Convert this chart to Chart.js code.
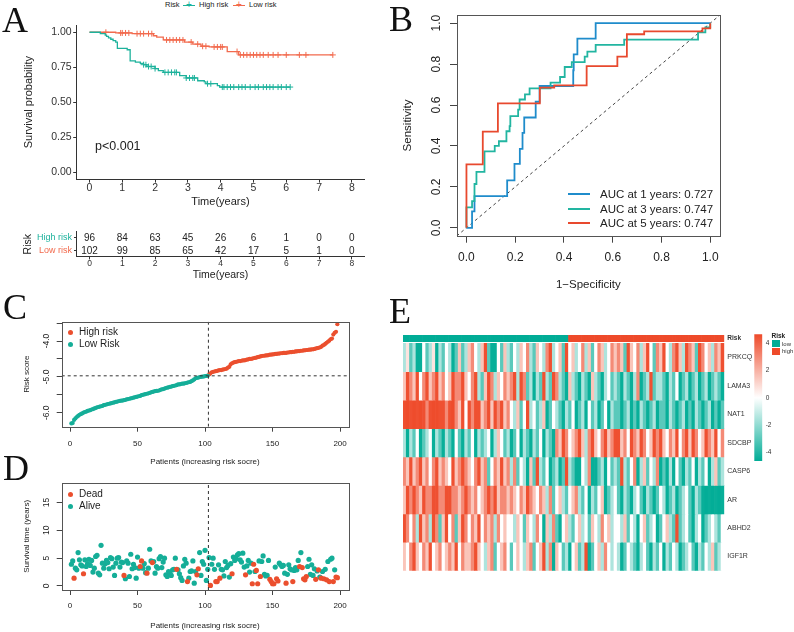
<!DOCTYPE html>
<html>
<head>
<meta charset="utf-8">
<script src="https://cdn.jsdelivr.net/npm/chart.js@4"></script>
<style>
  body { margin: 0; background: #fff; }
  #page { position: relative; width: 794px; height: 632px; overflow: hidden; font-family: 'Liberation Sans', Arial, sans-serif; color: #222; }
  #page canvas { position: absolute; }
  .abs { position: absolute; white-space: nowrap; }
  .letter { position: absolute; font-family: 'Liberation Serif', serif; font-size: 36px; line-height: 36px; color: #111; }
  .dot { position: absolute; width: 5px; height: 5px; border-radius: 50%; }
  .key { position: absolute; height: 0; }
</style>
</head>
<body>
<div id="page">
  <canvas id="km" width="385" height="200" style="left:0;top:12px"></canvas>
  <canvas id="atrisk" width="385" height="70" style="left:0;top:222px"></canvas>
  <canvas id="roc" width="406" height="295" style="left:388px;top:5px"></canvas>
  <canvas id="score" width="380" height="160" style="left:0;top:312px"></canvas>
  <canvas id="surv" width="380" height="159" style="left:0;top:473px"></canvas>
  <canvas id="heat" width="399" height="255" style="left:395px;top:325px"></canvas>
  <canvas id="cbar" width="49" height="145" style="left:745px;top:325px"></canvas>

  <div class="letter" style="left:2px;top:2px">A</div>
  <div class="letter" style="left:389px;top:1px">B</div>
  <div class="letter" style="left:3px;top:289px">C</div>
  <div class="letter" style="left:3px;top:450px">D</div>
  <div class="letter" style="left:389px;top:293px">E</div>

  <!-- KM legend -->
  <div class="abs" style="left:165px;top:0;font-size:7.5px;line-height:10px">Risk</div>
  <div class="key" style="left:183px;top:5px;width:12px;border-top:1.2px solid #1DB29C"></div>
  <div class="abs" style="left:186px;top:-1px;font-size:10px;line-height:12px;color:#1DB29C">+</div>
  <div class="abs" style="left:199px;top:0;font-size:7.5px;line-height:10px">High risk</div>
  <div class="key" style="left:233px;top:5px;width:12px;border-top:1.2px solid #F26A4D"></div>
  <div class="abs" style="left:236px;top:-1px;font-size:10px;line-height:12px;color:#F26A4D">+</div>
  <div class="abs" style="left:249px;top:0;font-size:7.5px;line-height:10px">Low risk</div>
  <div class="abs" style="left:95px;top:139px;font-size:12.5px;line-height:14px">p&lt;0.001</div>

  <!-- ROC legend -->
  <div class="key" style="left:568px;top:192.5px;width:22px;border-top:2px solid #1F8CCB"></div>
  <div class="abs" style="left:600px;top:186.5px;font-size:11.5px;line-height:14px">AUC at 1 years: 0.727</div>
  <div class="key" style="left:568px;top:207.5px;width:22px;border-top:2px solid #22B5A1"></div>
  <div class="abs" style="left:600px;top:201.5px;font-size:11.5px;line-height:14px">AUC at 3 years: 0.747</div>
  <div class="key" style="left:568px;top:222px;width:22px;border-top:2px solid #E8492E"></div>
  <div class="abs" style="left:600px;top:215.5px;font-size:11.5px;line-height:14px">AUC at 5 years: 0.747</div>

  <!-- risk score legend -->
  <div class="dot" style="left:67.5px;top:329.8px;background:#EB4F2E"></div>
  <div class="abs" style="left:79px;top:326.3px;font-size:10px;line-height:12px">High risk</div>
  <div class="dot" style="left:67.5px;top:341.5px;background:#15AE98"></div>
  <div class="abs" style="left:79px;top:338px;font-size:10px;line-height:12px">Low Risk</div>

  <!-- survival status legend -->
  <div class="dot" style="left:67.5px;top:491.8px;background:#EB4F2E"></div>
  <div class="abs" style="left:79px;top:488.3px;font-size:10px;line-height:12px">Dead</div>
  <div class="dot" style="left:67.5px;top:503.8px;background:#15AE98"></div>
  <div class="abs" style="left:79px;top:500.3px;font-size:10px;line-height:12px">Alive</div>

  <!-- heatmap annotation legend -->
  <div class="abs" style="left:771.5px;top:331.5px;font-size:6.5px;line-height:8px;font-weight:bold">Risk</div>
  <div class="abs" style="left:771.5px;top:340px;width:8.5px;height:7px;background:#00AC96"></div>
  <div class="abs" style="left:771.5px;top:347.5px;width:8.5px;height:7px;background:#EE4A2A"></div>
  <div class="abs" style="left:782px;top:339.5px;font-size:6px;line-height:8px;color:#333">low</div>
  <div class="abs" style="left:782px;top:347px;font-size:6px;line-height:8px;color:#333">high</div>
</div>

<script>
// ---------- data ----------
// A: Kaplan-Meier steps (time, survival) and censor times
const kmYears = [0, 1, 2, 3, 4, 5, 6, 7, 8];
const kmHighTime = [0, 0.33, 0.48, 0.52, 0.58, 0.65, 0.72, 0.8, 0.85, 1.15, 1.24, 1.4, 1.55, 1.65, 1.75, 2.0, 2.1, 2.25, 2.75, 2.95, 3.3, 3.5, 3.55, 3.9, 3.97, 6.12];
const kmHighSurv = [1, 0.99, 0.98, 0.97, 0.96, 0.95, 0.94, 0.93, 0.885, 0.875, 0.796, 0.787, 0.778, 0.768, 0.755, 0.74, 0.725, 0.713, 0.69, 0.673, 0.653, 0.645, 0.632, 0.618, 0.608, 0.608];
const kmLowTime = [0, 0.8, 1.3, 1.95, 2.05, 2.25, 2.9, 3.15, 3.4, 3.65, 4.2, 4.55, 7.42];
const kmLowSurv = [1, 0.995, 0.99, 0.975, 0.965, 0.945, 0.93, 0.915, 0.9, 0.895, 0.862, 0.838, 0.838];
const censorHigh = [1.65, 1.72, 1.8, 1.88, 2.0, 2.3, 2.4, 2.5, 2.6, 2.65, 2.95, 3.05, 3.15, 3.2, 3.6, 3.7, 4.05, 4.1, 4.2, 4.3, 4.4, 4.55, 4.65, 4.75, 4.9, 5.05, 5.15, 5.3, 5.4, 5.5, 5.6, 5.75, 5.85, 6.0, 6.12];
const censorLow = [0.5, 0.95, 1.0, 1.1, 1.2, 1.45, 1.55, 1.65, 1.8, 1.9, 2.35, 2.45, 2.55, 2.65, 2.75, 2.85, 3.1, 3.3, 3.45, 3.55, 3.8, 3.9, 4.0, 4.05, 4.5, 4.6, 4.7, 4.8, 4.9, 5.0, 5.1, 5.2, 5.3, 5.45, 5.6, 5.75, 6.0, 6.4, 6.6, 7.42];
const riskRows = ['High risk', 'Low risk'];
const atRiskHigh = [96, 84, 63, 45, 26, 6, 1, 0, 0];
const atRiskLow = [102, 99, 85, 65, 42, 17, 5, 1, 0];

// B: ROC curves (1-specificity, sensitivity)
const roc1x = [0, 0.023, 0.033, 0.167, 0.197, 0.219, 0.23, 0.237, 0.284, 0.30, 0.438, 0.44, 0.455, 0.53, 1.0];
const roc1y = [0, 0.08, 0.155, 0.232, 0.312, 0.386, 0.464, 0.539, 0.616, 0.693, 0.77, 0.848, 0.925, 1.0, 1.0];
const roc3x = [0, 0, 0.023, 0.033, 0.041, 0.074, 0.116, 0.133, 0.164, 0.177, 0.18, 0.212, 0.218, 0.24, 0.259, 0.345, 0.384, 0.403, 0.432, 0.485, 0.496, 0.53, 0.647, 0.95, 0.98, 1.0];
const roc3y = [0, 0.10, 0.13, 0.214, 0.273, 0.374, 0.40, 0.423, 0.472, 0.497, 0.546, 0.578, 0.627, 0.652, 0.681, 0.71, 0.737, 0.786, 0.81, 0.837, 0.861, 0.894, 0.92, 0.955, 0.98, 1.0];
const roc5x = [0, 0, 0.067, 0.129, 0.301, 0.36, 0.493, 0.619, 0.658, 0.729, 0.968, 1.0];
const roc5y = [0, 0.31, 0.47, 0.608, 0.685, 0.696, 0.79, 0.837, 0.946, 0.96, 0.975, 1.0];
const rocTicks = [0, 0.2, 0.4, 0.6, 0.8, 1.0];

// C: sorted risk scores, D: survival time and status (1 = dead)
const riskScore = [
  -6.30, -6.29, -6.20, -6.16, -6.12, -6.09, -6.06, -6.04, -6.02, -6.00,
  -5.98, -5.97, -5.95, -5.94, -5.93, -5.91, -5.90, -5.88, -5.87, -5.85,
  -5.84, -5.83, -5.82, -5.81, -5.79, -5.78, -5.77, -5.76, -5.75, -5.74,
  -5.73, -5.72, -5.71, -5.70, -5.69, -5.68, -5.67, -5.66, -5.66, -5.65,
  -5.64, -5.63, -5.62, -5.61, -5.60, -5.59, -5.58, -5.57, -5.56, -5.55,
  -5.54, -5.53, -5.51, -5.50, -5.49, -5.48, -5.47, -5.46, -5.45, -5.43,
  -5.42, -5.41, -5.40, -5.39, -5.39, -5.38, -5.36, -5.35, -5.34, -5.33,
  -5.31, -5.30, -5.29, -5.28, -5.27, -5.26, -5.25, -5.24, -5.23, -5.21,
  -5.21, -5.20, -5.19, -5.19, -5.18, -5.17, -5.16, -5.15, -5.14, -5.12,
  -5.10, -5.07, -5.04, -5.03, -5.02, -5.01, -5.00, -4.99, -4.99, -4.98,
  -4.97, -4.97, -4.93, -4.90, -4.87, -4.86, -4.85, -4.84, -4.83, -4.82,
  -4.81, -4.81, -4.80, -4.79, -4.78, -4.77, -4.74, -4.72, -4.65, -4.62,
  -4.60, -4.59, -4.58, -4.57, -4.56, -4.56, -4.55, -4.54, -4.54, -4.53,
  -4.52, -4.51, -4.50, -4.50, -4.49, -4.48, -4.47, -4.46, -4.45, -4.44,
  -4.43, -4.42, -4.41, -4.41, -4.40, -4.40, -4.39, -4.38, -4.38, -4.37,
  -4.37, -4.36, -4.36, -4.35, -4.35, -4.34, -4.34, -4.33, -4.33, -4.33,
  -4.32, -4.32, -4.31, -4.31, -4.30, -4.30, -4.29, -4.29, -4.28, -4.28,
  -4.27, -4.27, -4.26, -4.26, -4.25, -4.25, -4.24, -4.24, -4.23, -4.23,
  -4.22, -4.21, -4.20, -4.19, -4.18, -4.16, -4.13, -4.11, -4.08, -4.05,
  -4.02, -3.99, -3.95, -3.93, -3.82, -3.77, -3.74, -3.53
];
const lowRiskCount = 102;
const riskCutoff = -4.97;
const scoreTicks = [-6.0, -5.5, -5.0, -4.5, -4.0, -3.5];
const scoreLabelled = [-6.0, -5.0, -4.0];
const patientTicks = [0, 50, 100, 150, 200];
const survTicks = [0, 5, 10, 15];
const survTime = [
  3.9, 4.5, 1.4, 3.2, 2.9, 6.0, 4.7, 3.8, 3.6, 2.2,
  4.7, 3.5, 4.0, 4.8, 3.7, 4.6, 2.5, 3.2, 5.3, 5.5,
  2.3, 2.0, 7.3, 4.1, 3.2, 4.0, 4.6, 4.2, 3.1, 5.1,
  4.9, 3.4, 1.9, 4.1, 5.0, 5.1, 3.4, 4.3, 4.2, 1.9,
  1.3, 4.5, 4.1, 1.7, 5.7, 3.1, 3.9, 3.3, 1.4, 5.2,
  3.2, 3.5, 4.5, 3.2, 4.0, 2.4, 2.3, 3.2, 6.6, 4.5,
  4.2, 4.4, 2.3, 3.5, 3.2, 4.9, 5.3, 3.3, 4.3, 5.0,
  2.0, 1.7, 2.6, 2.3, 1.9, 2.9, 3.0, 5.0, 3.0, 2.9,
  2.2, 1.5, 1.0, 3.6, 4.8, 4.1, 0.8, 1.4, 2.6, 2.7,
  4.5, 0.5, 2.6, 2.0, 3.1, 6.0, 1.9, 4.4, 3.9, 6.4,
  1.0, 3.0, 5.1, 0.1, 3.9, 5.0, 3.0, 0.8, 0.8, 3.8,
  1.4, 3.0, 2.9, 1.8, 4.4, 3.3, 3.7, 1.6, 4.0, 2.2,
  5.2, 4.6, 4.9, 5.6, 5.8, 4.7, 4.3, 5.9, 3.4, 2.0,
  3.6, 4.6, 2.5, 4.1, 0.4, 3.9, 2.6, 2.8, 0.4, 4.5,
  1.7, 4.4, 5.4, 2.1, 1.8, 1.9, 4.6, 1.2, 0.8, 0.4,
  0.4, 3.4, 1.3, 0.9, 4.1, 3.8, 3.5, 3.7, 2.3, 0.5,
  2.1, 3.8, 3.1, 2.9, 0.8, 2.8, 3.3, 2.9, 4.6, 3.5,
  6.0, 3.3, 1.3, 1.1, 1.7, 3.5, 4.8, 2.1, 3.8, 1.9,
  3.1, 1.2, 2.7, 2.9, 1.6, 1.4, 2.6, 1.3, 3.0, 1.1,
  4.4, 0.8, 4.8, 5.0, 0.8, 2.9, 1.6, 1.5
];
const survStatus = [
  0, 0, 1, 0, 0, 0, 0, 0, 0, 1,
  0, 0, 0, 0, 0, 0, 0, 0, 0, 0,
  0, 0, 0, 0, 0, 0, 0, 0, 0, 0,
  0, 0, 0, 0, 0, 0, 0, 0, 0, 1,
  0, 0, 0, 0, 0, 0, 0, 0, 0, 0,
  0, 1, 1, 0, 0, 0, 1, 0, 0, 0,
  1, 0, 0, 0, 0, 0, 0, 0, 0, 0,
  0, 0, 0, 0, 0, 0, 0, 0, 1, 0,
  0, 0, 0, 0, 0, 0, 1, 0, 0, 0,
  0, 0, 0, 1, 1, 0, 0, 0, 0, 0,
  0, 0, 0, 1, 0, 0, 0, 1, 1, 0,
  1, 0, 0, 0, 0, 0, 0, 0, 0, 1,
  0, 0, 0, 0, 0, 0, 0, 0, 0, 1,
  0, 0, 0, 0, 1, 1, 0, 1, 1, 0,
  1, 0, 0, 0, 0, 0, 0, 1, 1, 1,
  1, 0, 1, 1, 0, 0, 0, 0, 0, 1,
  0, 0, 0, 0, 1, 0, 0, 0, 0, 1,
  0, 1, 1, 1, 1, 0, 0, 0, 0, 0,
  0, 1, 0, 1, 0, 1, 0, 1, 0, 1,
  0, 1, 0, 0, 1, 0, 1, 1
];

// E: expression heatmap (z-scores, columns sorted by risk), 51 low-risk columns first
const geneNames = ['PRKCQ', 'LAMA3', 'NAT1', 'SDCBP', 'CASP6', 'AR', 'ABHD2', 'IGF1R'];
const heatLowColumns = 51;
const exprPRKCQ = [-1.5, 0.7, -3, -1.5, -4.5, -4.5, 0, -3, -1.5, 0.7, -4.5, -1.5, -3, 0, -1.5, -4.5, -3, 1.5, -3, -1.5, 1.5, 3, 0, -1.5, 1.5, 4.5, -3, -4.5, -4.5, 0, -3, 1.5, -1.5,
  -3, 0, -1.5, 1.5, 0, 3, -1.5, -3, 1.5, 0, -1.5, 3, 4.5, -1.5, 0, 1.5, -3, 4.5, 0, 1.5, -1.5, 0, 3, -1.5, 1.5, -3, 0, 3, 1.5, -1.5, 0, 3, 1.5,
  3, 1.5, -3, 4.5, 1.5, 0, 3, -1.5, 1.5, 4.5, 0, -3, 3, 1.5, 4.5, 0, -1.5, 3, 4.5, 1.5, -1.5, 4.5, 3, 1.5, -3, 4.5, 3, 0, 1.5, -1.5, 3, 1.5, 4.5];
const exprLAMA3 = [1.5, 4.5, 3, 1.5, 4.5, 0, 3, 4.5, 1.5, 3, 4.5, 1.5, 3, 0, 1.5, 4.5, 3, 3, 4.5, 1.5, 0, 3, 4.5, -1.5, -3, 1.5, 4.5, 3, -1.5, 1.5, 0, 3, 1.5,
  3, 4.5, -1.5, 4.5, 3, -3, -1.5, -4.5, -1.5, -3, 4.5, -1.5, -3, 4.5, 3, -1.5, -3, -4.5, 1.5, -1.5, -3, -4.5, -1.5, -3, -4.5, 1.5, -1.5, -3, -4.5, -1.5, 0, -3, -1.5,
  -3, -4.5, -1.5, -3, -4.5, -1.5, 3, -4.5, -3, -1.5, 4.5, -3, -1.5, -1.5, -3, -4.5, -1.5, -3, 0, -4.5, -3, -1.5, -4.5, -3, -1.5, -4.5, -3, -1.5, -4.5, -3, -1.5, -3, -4.5];
const exprNAT1 = [4.5, 4.6, 4.5, 4.6, 4.5, 4.6, 4.5, 3, 4.5, 4.6, 4.6, 4.5, 4.5, 3, 4.5, 4.6, 3, 1.5, 4.5, 0, 4.5, 3, 4.5, 4.5, 1.5, 3, 4.5, 1.5, 4.5, 3, 4.5, 1.5, 3,
  0, -1.5, 1.5, -3, 0, 4.5, -1.5, 0, -3, -1.5, 1.5, -4.5, -3, 0, -1.5, -3, -4.5, -1.5, -3, 0, -4.5, -3, -1.5, -4.5, 0, -3, -1.5, -4.5, -3, 0, -4.5, -1.5, -3,
  -3, -4.5, -3, -1.5, -4.5, -3, -4.5, -1.5, -3, -4.5, -3, -1.5, -4.5, -3, -3, -4.5, -1.5, -3, -4.5, -3, -1.5, -4.5, -3, -4.5, -1.5, -3, -4.5, -3, -1.5, -4.5, -3, -4.5, -3];
const exprSDCBP = [-1.5, -4.5, -1.5, -3, 0, -4.5, -3, -1.5, 0, -4.5, -1.5, -3, -4.5, -1.5, -3, -4.5, 0, -3, -4.5, -1.5, -3, 0, -4.5, -1.5, -3, -1.5, 0, -4.5, -1.5, 1.5, 0, -3, -1.5,
  -4.5, -3, 0, -4.5, -1.5, -3, -4.5, -1.5, -3, 0, -4.5, -1.5, -3, -4.5, 3, 1.5, 4.5, 3, 0, 1.5, 3, 4.5, 1.5, -1.5, 3, 4.5, 1.5, 0, 3, 4.5, 1.5, 3, 4.5,
  4.5, 1.5, 3, 0, 4.5, 3, 1.5, 4.5, 3, 0, 1.5, 4.5, 3, 4.5, 1.5, 0, 3, 1.5, 4.5, 0, 3, 4.5, 1.5, 4.5, 3, 0, 1.5, 4.5, 3, 1.5, 4.5, 0, 3];
const exprCASP6 = [3, 1.5, 4.5, 1.5, 3, 4.5, 1.5, 3, 0, 3, 4.5, 1.5, 3, 1.5, 0, 4.5, 1.5, 3, 4.5, 3, 1.5, 0, 3, 4.5, 1.5, 3, -3, 0, 3, 1.5, 4.5, 1.5, 3,
  -1.5, 3, -3, 0, -1.5, -4.5, 1.5, -3, 4.5, -1.5, -3, 0, -4.5, -3, -1.5, -4.5, -3, 4.5, -1.5, -3, -4.5, -4.5, 0, -1.5, 3, -4.5, -4.5, -3, -1.5, -4.5, 0, -3, -1.5,
  -3, 4.5, -1.5, -3, 0, 3, -4.5, -1.5, 1.5, -3, 0, -1.5, 3, -4.5, -3, -4.5, -1.5, -4.5, 0, -3, -4.5, -1.5, -3, 0, -4.5, -1.5, -3, 0, -4.5, -1.5, 1.5, -3, -1.5];
const exprAR = [1.5, 4.5, 3, 4.5, 3, 1.5, 4.5, 3, 3, 4.5, 4.5, 3, 3, 4.5, 4.5, 3, 3, 1.5, 3, 4.5, 3, 1.5, 3, 0, 1.5, 3, 4.5, 3, 4.5, 1.5, 3, 3, 1.5,
  3, 1.5, 0, 3, 1.5, 4.5, 3, 1.5, 0, 3, 1.5, -1.5, 3, -3, 0, 1.5, -1.5, -3, 0, 1.5, 3, -1.5, -3, 0, -4.5, -1.5, -3, 0, 1.5, -4.5, -3, -1.5, 0,
  -3, -4.5, -1.5, -3, -4.5, -1.5, 0, -3, -4.5, -1.5, -3, -4.5, -3, 0, -1.5, -4.5, -3, -1.5, -4.5, -3, -1.5, 0, -3, -4.5, -1.5, -3, -4.5, -4.6, -4.5, -4.6, -4.5, -4.6, -4.5];
const exprABHD2 = [4.5, 3, 0, 3, -1.5, 4.5, 1.5, 3, -1.5, 4.5, 3, -3, 1.5, 4.5, 0, 3, -3, 1.5, 4.5, 3, 0, 3, 1.5, 4.5, 0, 3, 1.5, 3, -1.5, 3, 0, 1.5, 0,
  0, -1.5, 1.5, 0, -3, 1.5, 0, -1.5, 3, 0, -4.5, 1.5, -1.5, 3, -3, -4.5, 0, 1.5, -1.5, -3, 0, 1.5, -1.5, 0, -3, 1.5, 0, -1.5, 3, 0, 1.5, -1.5, 0,
  0, -1.5, 1.5, -3, 0, -1.5, -4.5, 0, 1.5, -3, -1.5, 0, -4.5, -3, 0, 1.5, -1.5, -3, 4.5, -3, -1.5, 0, -3, -4.5, -1.5, 0, -4.5, -3, -1.5, 0, -1.5, -3, 0];
const exprIGF1R = [1.5, 0, 3, 4.5, 1.5, 0, 3, 1.5, 4.5, 0, 1.5, 3, 0, 1.5, 3, 1.5, 4.5, 0, 3, 1.5, 1.5, 3, 4.5, 1.5, 0, -1.5, 1.5, 3, -3, 0, 1.5, 3, 0,
  -3, 0, 1.5, 0, -1.5, 1.5, 3, -3, 0, 1.5, 4.5, -1.5, 3, -4.5, 1.5, 0, -3, -1.5, -4.5, 0, 1.5, -3, -1.5, 4.5, -4.5, -3, 0, 1.5, -1.5, 3, 0, -1.5, 0,
  -1.5, -4.5, -3, 0, -1.5, -3, -4.5, -1.5, 0, -3, -4.5, -1.5, -3, 0, -4.5, -1.5, -3, 0, -1.5, -4.5, -3, -1.5, 0, -3, -4.5, -1.5, -3, 0, -1.5, 1.5, -3, -1.5, 0];
const colorbarTicks = [4, 2, 0, -2, -4];

// ---------- colours ----------
const KM_TEAL = '#1DB29C', KM_RED = '#F26A4D';
const ROC_BLUE = '#1F8CCB', ROC_TEAL = '#22B5A1', ROC_RED = '#E8492E';
const PT_TEAL = '#15AE98', PT_RED = '#EB4F2E';
const HEAT_LOW = [0, 172, 150], HEAT_HIGH = [238, 74, 42], HEAT_MAX = 4.65;

Chart.defaults.font.family = "'Liberation Sans', Arial, sans-serif";
Chart.defaults.color = '#222';
Chart.defaults.animation = false;
Chart.defaults.events = [];
Chart.defaults.plugins.legend.display = false;
Chart.defaults.plugins.tooltip.enabled = false;

// ---------- helpers ----------
function fixed(size) {
  return s => {
    if (s.isHorizontal()) s.height = size; else s.width = size;
    s.paddingLeft = s.paddingRight = s.paddingTop = s.paddingBottom = 0;
  };
}
function tickAt(values) {
  return s => { s.ticks = values.map(v => ({ value: v })); };
}
function pts(xs, ys) {
  return xs.map((x, i) => ({ x: x, y: ys[i] }));
}
function survAt(times, surv, t) {
  let s = surv[0];
  times.forEach((tt, i) => { if (tt <= t) s = surv[i]; });
  return s;
}
function mix(rgb, f) {
  return 'rgb(' + rgb.map(c => Math.round(255 + (c - 255) * f)).join(',') + ')';
}
function heatColor(v) {
  const f = Math.min(Math.abs(v) / HEAT_MAX, 1);
  return mix(v < 0 ? HEAT_LOW : HEAT_HIGH, f);
}

// draws the R-style box round the plot region
const framePlugin = {
  id: 'frame',
  afterDraw(chart, args, opts) {
    if (!opts.color) return;
    const a = chart.chartArea, ctx = chart.ctx;
    ctx.save();
    ctx.strokeStyle = opts.color;
    ctx.lineWidth = 1;
    ctx.strokeRect(Math.round(a.left) + 0.5, Math.round(a.top) + 0.5, Math.round(a.right - a.left), Math.round(a.bottom - a.top));
    ctx.restore();
  }
};
Chart.register(framePlugin);

// axis builder: o = {min, max, ticks, size, font, pad, tick, title, titleFont, titlePad, rot, fmt, line}
function axis(o) {
  const vertical = !!o.vertical;
  return {
    type: 'linear', position: vertical ? 'left' : 'bottom', min: o.min, max: o.max,
    afterBuildTicks: tickAt(o.ticks), afterFit: fixed(o.size),
    ticks: {
      autoSkip: false, font: { size: o.font, lineHeight: 1 }, color: o.color || '#222', padding: o.pad,
      minRotation: o.rot || 0, maxRotation: o.rot || 0, crossAlign: o.rot ? 'center' : 'near',
      callback: o.fmt || (v => String(v))
    },
    grid: { display: true, drawOnChartArea: false, tickLength: o.tick, color: o.line || '#444', tickColor: o.line || '#444' },
    border: { display: !!o.border, color: o.line || '#444', width: 1 },
    title: {
      display: !!o.title, text: o.title, color: '#222', font: { size: o.titleFont, lineHeight: 1 },
      padding: vertical ? { top: o.titlePad, bottom: 0 } : { top: 0, bottom: o.titlePad }
    }
  };
}
const base = { responsive: false, maintainAspectRatio: false, devicePixelRatio: 1 };

// ---------- A: Kaplan-Meier ----------
new Chart(document.getElementById('km'), {
  type: 'scatter',
  data: {
    datasets: [
      { data: pts(kmHighTime, kmHighSurv), showLine: true, stepped: true, borderColor: KM_TEAL, borderWidth: 1.3, pointRadius: 0 },
      { data: pts(kmLowTime, kmLowSurv), showLine: true, stepped: true, borderColor: KM_RED, borderWidth: 1.3, pointRadius: 0 },
      { data: censorHigh.map(t => ({ x: t, y: survAt(kmHighTime, kmHighSurv, t) })), pointStyle: 'cross', pointRadius: 3, borderWidth: 1, borderColor: KM_TEAL },
      { data: censorLow.map(t => ({ x: t, y: survAt(kmLowTime, kmLowSurv, t) })), pointStyle: 'cross', pointRadius: 3, borderWidth: 1, borderColor: KM_RED }
    ]
  },
  options: Object.assign({}, base, {
    layout: { padding: { left: 0, top: 13, right: 20.7, bottom: 0 } },
    plugins: { frame: false },
    scales: {
      x: axis({ min: -0.39, max: 8.38, ticks: kmYears, size: 32.7, font: 10.5, pad: 0.5, tick: 3.3, title: 'Time(years)', titleFont: 11, titlePad: 4.8, border: true, line: '#333', color: '#333' }),
      y: axis({ vertical: true, min: -0.052, max: 1.052, ticks: [0, 0.25, 0.5, 0.75, 1], size: 76.7, font: 10.5, pad: 1.5, tick: 3.5, title: 'Survival probability', titleFont: 11, titlePad: 23.5, border: true, line: '#333', color: '#333', fmt: v => v.toFixed(2) })
    }
  })
});

// ---------- A: number at risk ----------
const atRiskText = {
  id: 'atRiskText',
  afterDatasetsDraw(chart) {
    const { ctx, scales: { x, y } } = chart;
    ctx.save();
    ctx.font = "10px 'Liberation Sans'";
    ctx.fillStyle = '#222';
    ctx.textAlign = 'center';
    ctx.textBaseline = 'middle';
    [atRiskHigh, atRiskLow].forEach((row, r) => {
      row.forEach((n, i) => ctx.fillText(String(n), x.getPixelForValue(kmYears[i]), y.getPixelForValue(r) + 0.5));
    });
    ctx.restore();
  }
};
const riskY = axis({ vertical: true, size: 76.7, font: 9, pad: 2, tick: 2.7, title: 'Risk', titleFont: 10.5, titlePad: 22.7, border: true, line: '#333' });
riskY.type = 'category';
riskY.labels = riskRows;
riskY.offset = true;
riskY.grid.offset = false;
delete riskY.afterBuildTicks;
delete riskY.ticks.callback;
riskY.ticks.color = c => (c.index === 0 ? KM_TEAL : KM_RED);
new Chart(document.getElementById('atrisk'), {
  type: 'scatter',
  data: { datasets: [] },
  options: Object.assign({}, base, {
    layout: { padding: { left: 0, top: 9.7, right: 20.7, bottom: 0 } },
    plugins: { frame: false },
    scales: {
      x: axis({ min: -0.39, max: 8.38, ticks: kmYears, size: 35.3, font: 8.5, pad: 0.4, tick: 2.7, title: 'Time(years)', titleFont: 10.5, titlePad: 11.7, border: true, line: '#333', color: '#333' }),
      y: riskY
    }
  }),
  plugins: [atRiskText]
});

// ---------- B: ROC ----------
new Chart(document.getElementById('roc'), {
  type: 'scatter',
  data: {
    datasets: [
      { data: pts(roc5x, roc5y), showLine: true, stepped: true, borderColor: ROC_RED, borderWidth: 1.8, pointRadius: 0, order: 0 },
      { data: pts(roc3x, roc3y), showLine: true, stepped: true, borderColor: ROC_TEAL, borderWidth: 1.8, pointRadius: 0, order: 1 },
      { data: pts(roc1x, roc1y), showLine: true, stepped: true, borderColor: ROC_BLUE, borderWidth: 1.8, pointRadius: 0, order: 2 },
      { data: [{ x: -0.04, y: -0.04 }, { x: 1.04, y: 1.04 }], showLine: true, borderColor: '#444', borderWidth: 1, borderDash: [3, 3], pointRadius: 0, order: 3 }
    ]
  },
  options: Object.assign({}, base, {
    layout: { padding: { left: 0, top: 10, right: 74, bottom: 0 } },
    plugins: { frame: { color: '#555' } },
    scales: {
      x: axis({ min: -0.04, max: 1.04, ticks: rocTicks, size: 64, font: 12, pad: 8.6, tick: 6.7, title: '1\u2212Specificity', titleFont: 11.5, titlePad: 9.2, fmt: v => v.toFixed(1) }),
      y: axis({ vertical: true, min: -0.04, max: 1.04, ticks: rocTicks, size: 68.7, font: 12, pad: 5, tick: 6.7, rot: 90, title: 'Sensitivity', titleFont: 11.5, titlePad: 14.5, fmt: v => v.toFixed(1) })
    }
  })
});

// ---------- C: risk score ----------
const patMin = -6.15, patMax = 206.1;
new Chart(document.getElementById('score'), {
  type: 'scatter',
  data: {
    datasets: [
      { data: [{ x: lowRiskCount + 0.5, y: -6.39 }, { x: lowRiskCount + 0.5, y: -3.46 }], showLine: true, borderColor: '#333', borderWidth: 1, borderDash: [3, 3], pointRadius: 0, order: 0 },
      { data: [{ x: patMin, y: riskCutoff }, { x: patMax, y: riskCutoff }], showLine: true, borderColor: '#333', borderWidth: 1, borderDash: [3, 3], pointRadius: 0, order: 0 },
      { data: riskScore.slice(0, lowRiskCount).map((v, i) => ({ x: i + 1, y: v })), backgroundColor: PT_TEAL, borderWidth: 0, pointRadius: 2.1, order: 1 },
      { data: riskScore.slice(lowRiskCount).map((v, i) => ({ x: lowRiskCount + i + 1, y: v })), backgroundColor: PT_RED, borderWidth: 0, pointRadius: 2.1, order: 1 }
    ]
  },
  options: Object.assign({}, base, {
    layout: { padding: { left: 0, top: 9.7, right: 31.7, bottom: 0 } },
    plugins: { frame: { color: '#555' } },
    scales: {
      x: axis({ min: patMin, max: patMax, ticks: patientTicks, size: 45.3, font: 8, pad: 7.6, tick: 5, title: 'Patients (increasing risk socre)', titleFont: 8, titlePad: 6.3 }),
      y: axis({ vertical: true, min: -6.39, max: -3.46, ticks: scoreTicks, size: 61.7, font: 8.5, pad: 2.7, tick: 5, rot: 90, title: 'Risk score', titleFont: 8, titlePad: 22.7,
        fmt: v => (scoreLabelled.includes(v) ? v.toFixed(1) : '') })
    }
  })
});

// ---------- D: survival status ----------
new Chart(document.getElementById('surv'), {
  type: 'scatter',
  data: {
    datasets: [
      { data: [{ x: lowRiskCount + 0.5, y: -0.72 }, { x: lowRiskCount + 0.5, y: 18.55 }], showLine: true, borderColor: '#333', borderWidth: 1, borderDash: [3, 3], pointRadius: 0, order: 0 },
      { data: survTime.map((t, i) => ({ x: i + 1, y: t })).filter((p, i) => survStatus[i] === 0), backgroundColor: PT_TEAL, borderWidth: 0, pointRadius: 2.6, order: 2 },
      { data: survTime.map((t, i) => ({ x: i + 1, y: t })).filter((p, i) => survStatus[i] === 1), backgroundColor: PT_RED, borderWidth: 0, pointRadius: 2.6, order: 1 }
    ]
  },
  options: Object.assign({}, base, {
    layout: { padding: { left: 0, top: 9.7, right: 31.7, bottom: 0 } },
    plugins: { frame: { color: '#555' } },
    scales: {
      x: axis({ min: patMin, max: patMax, ticks: patientTicks, size: 42, font: 8, pad: 6.7, tick: 5, title: 'Patients (increasing risk socre)', titleFont: 8, titlePad: 2.3 }),
      y: axis({ vertical: true, min: -0.72, max: 18.55, ticks: survTicks, size: 61.7, font: 8.5, pad: 5.3, tick: 5, rot: 90, title: 'Survival time (years)', titleFont: 8, titlePad: 22.7 })
    }
  })
});

// ---------- E: heatmap ----------
const heatRows = [exprPRKCQ, exprLAMA3, exprNAT1, exprSDCBP, exprCASP6, exprAR, exprABHD2, exprIGF1R];
const nRows = geneNames.length;
const heatCols = exprPRKCQ.map((v, i) => i + 1);
const annBand = [nRows + 0.056, nRows + 0.292];
const heatSets = heatRows.map((row, r) => ({
  data: row.map(() => [nRows - r - 1, nRows - r]),
  backgroundColor: row.map(heatColor),
  borderWidth: 0, barPercentage: 1, categoryPercentage: 1, grouped: false
}));
heatSets.push({
  data: heatCols.map(() => annBand),
  backgroundColor: heatCols.map((c, i) => (i < heatLowColumns ? mix(HEAT_LOW, 1) : mix(HEAT_HIGH, 1))),
  borderWidth: 0, barPercentage: 1, categoryPercentage: 1, grouped: false
});
const rowTicks = [(annBand[0] + annBand[1]) / 2].concat(geneNames.map((g, r) => nRows - r - 0.5));
new Chart(document.getElementById('heat'), {
  type: 'bar',
  data: { labels: heatCols, datasets: heatSets },
  options: Object.assign({}, base, {
    layout: { padding: { left: 8, top: 10, right: 29.7, bottom: 9.3 } },
    plugins: { frame: false },
    scales: {
      x: { display: false },
      y: {
        type: 'linear', position: 'right', min: 0, max: annBand[1],
        afterBuildTicks: tickAt(rowTicks), afterFit: fixed(40),
        grid: { display: false, drawTicks: false, tickLength: 0 }, border: { display: false },
        ticks: {
          autoSkip: false, padding: 3, color: '#333',
          font: c => ({ size: c.tick && c.tick.value > nRows ? 6.5 : 7, weight: c.tick && c.tick.value > nRows ? 'bold' : 'normal', lineHeight: 1 }),
          callback: v => (v > nRows ? 'Risk' : geneNames[nRows - 1 - Math.floor(v)])
        }
      }
    }
  })
});

// ---------- E: colour key ----------
const keyMin = -4.64, keyMax = 4.66;
new Chart(document.getElementById('cbar'), {
  type: 'bar',
  data: {
    labels: [''],
    datasets: [{
      data: [[keyMin, keyMax]], borderWidth: 0, barPercentage: 1, categoryPercentage: 1,
      backgroundColor: c => {
        const { ctx, chartArea, scales } = c.chart;
        if (!chartArea) return mix(HEAT_HIGH, 1);
        const g = ctx.createLinearGradient(0, chartArea.bottom, 0, chartArea.top);
        const zero = (chartArea.bottom - scales.y.getPixelForValue(0)) / (chartArea.bottom - chartArea.top);
        g.addColorStop(0, mix(HEAT_LOW, 1));
        g.addColorStop(zero, '#ffffff');
        g.addColorStop(1, mix(HEAT_HIGH, 1));
        return g;
      }
    }]
  },
  options: Object.assign({}, base, {
    layout: { padding: { left: 9.3, top: 9.3, right: 0, bottom: 9 } },
    plugins: { frame: false },
    scales: {
      x: { display: false },
      y: {
        type: 'linear', position: 'right', min: keyMin, max: keyMax,
        afterBuildTicks: tickAt(colorbarTicks), afterFit: fixed(31.7),
        grid: { display: false, drawTicks: false, tickLength: 0 }, border: { display: false },
        ticks: { autoSkip: false, padding: 3.4, color: '#333', font: { size: 6.5, lineHeight: 1 } }
      }
    }
  })
});
</script>
</body>
</html>
